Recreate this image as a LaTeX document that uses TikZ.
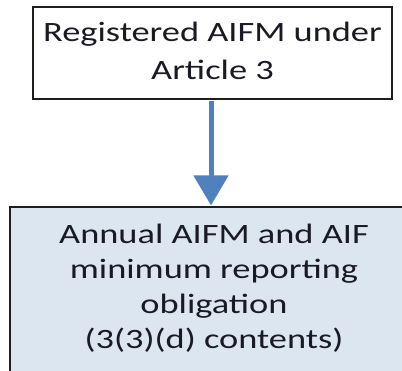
\documentclass[tikz,border=0pt]{standalone}
\usepackage{fontspec}
\setmainfont{Carlito}
\usetikzlibrary{arrows.meta}
\definecolor{arrowblue}{HTML}{4F81BD}
\definecolor{boxfill}{HTML}{DCE6F1}
\definecolor{edge}{HTML}{1E1E1E}
\definecolor{ink}{HTML}{1A1A24}
\newcommand{\widetext}[2]{\scalebox{1.3}[1]{\fontsize{28}{#1}\selectfont\begin{tabular}{@{}c@{}}#2\end{tabular}}}
\tikzset{
  boxtext/.style={text=ink, inner sep=0pt},
  topbox/.style={draw=edge, line width=1.6pt, fill=white, minimum width=359pt, minimum height=92pt, inner sep=0pt},
  botbox/.style={draw=edge, line width=1.6pt, fill=boxfill, minimum width=410pt, minimum height=190pt, inner sep=0pt},
  flowarrow/.style={draw=arrowblue, line width=5pt, -{Triangle[width=34pt,length=30pt]}, shorten <=0.8pt, shorten >=0.8pt}
}
\begin{document}
\begin{tikzpicture}[x=1pt,y=-1pt]
\useasboundingbox (0,0) rectangle (402,371);
\clip (0,0) rectangle (402,371);
\fill[white] (0,0) rectangle (402,371);
\node[topbox] (top) at (212.5,53) {};
\node[boxtext] (toptext) at (212.5,53) {\widetext{38}{Registered AIFM under\\Article 3}};
\node[botbox] (bot) at (215,302) {};
\node[boxtext] (bottext) at (214,289) {\widetext{35}{Annual AIFM and AIF\\minimum reporting\\obligation\\(3(3)(d) contents)}};
\draw[flowarrow] (top.south -| 211,0) -- (bot.north -| 211,0);
\end{tikzpicture}
\end{document}
